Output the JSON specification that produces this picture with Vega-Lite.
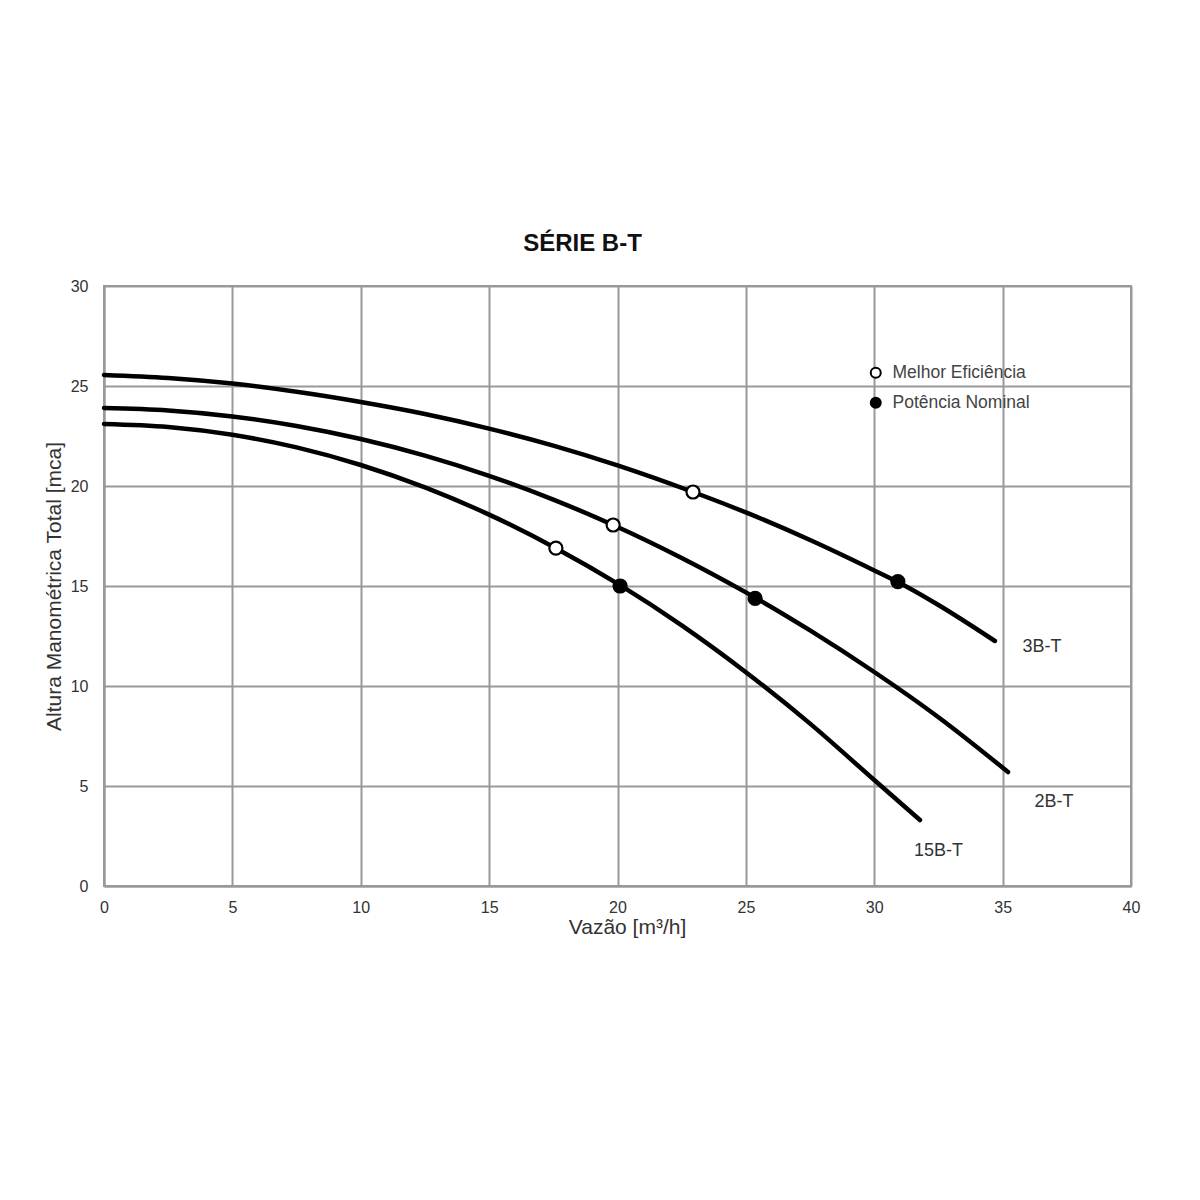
{
  "$schema": "https://vega.github.io/schema/vega-lite/v6.json",
  "autosize": "none",
  "padding": {"left": 104, "top": 286, "right": 69, "bottom": 314},
  "width": 1027,
  "height": 600,
  "background": "white",
  "title": {"text": "SÉRIE B-T", "font": "Liberation Sans", "fontSize": 24, "fontWeight": "bold", "color": "#111", "offset": 22, "dx": -35, "anchor": "middle"},
  "datasets": {
    "curves": [
      {"serie": "3B-T", "q": 0, "h": 25.55}, {"serie": "3B-T", "q": 2.5, "h": 25.4}, {"serie": "3B-T", "q": 5, "h": 25.12}, {"serie": "3B-T", "q": 7.5, "h": 24.71}, {"serie": "3B-T", "q": 10, "h": 24.2}, {"serie": "3B-T", "q": 12.5, "h": 23.6}, {"serie": "3B-T", "q": 15, "h": 22.87}, {"serie": "3B-T", "q": 17.5, "h": 22.02}, {"serie": "3B-T", "q": 20, "h": 21.03}, {"serie": "3B-T", "q": 22.94, "h": 19.7}, {"serie": "3B-T", "q": 25, "h": 18.68}, {"serie": "3B-T", "q": 27.5, "h": 17.3}, {"serie": "3B-T", "q": 30, "h": 15.78}, {"serie": "3B-T", "q": 30.92, "h": 15.2}, {"serie": "3B-T", "q": 32.5, "h": 14.05}, {"serie": "3B-T", "q": 34.7, "h": 12.25},
      {"serie": "2B-T", "q": 0, "h": 23.9}, {"serie": "2B-T", "q": 2.5, "h": 23.78}, {"serie": "2B-T", "q": 5, "h": 23.48}, {"serie": "2B-T", "q": 7.5, "h": 23.0}, {"serie": "2B-T", "q": 10, "h": 22.35}, {"serie": "2B-T", "q": 12.5, "h": 21.52}, {"serie": "2B-T", "q": 15, "h": 20.51}, {"serie": "2B-T", "q": 17.5, "h": 19.32}, {"serie": "2B-T", "q": 19.83, "h": 18.05}, {"serie": "2B-T", "q": 22.5, "h": 16.4}, {"serie": "2B-T", "q": 25, "h": 14.68}, {"serie": "2B-T", "q": 25.36, "h": 14.42}, {"serie": "2B-T", "q": 27.5, "h": 12.78}, {"serie": "2B-T", "q": 30, "h": 10.7}, {"serie": "2B-T", "q": 32.5, "h": 8.44}, {"serie": "2B-T", "q": 35.21, "h": 5.7},
      {"serie": "15B-T", "q": 0, "h": 23.1}, {"serie": "15B-T", "q": 2.5, "h": 22.95}, {"serie": "15B-T", "q": 5, "h": 22.56}, {"serie": "15B-T", "q": 7.5, "h": 21.93}, {"serie": "15B-T", "q": 10, "h": 21.05}, {"serie": "15B-T", "q": 12.5, "h": 19.93}, {"serie": "15B-T", "q": 15, "h": 18.57}, {"serie": "15B-T", "q": 17.6, "h": 16.89}, {"serie": "15B-T", "q": 20.1, "h": 15.04}, {"serie": "15B-T", "q": 22.5, "h": 13.03}, {"serie": "15B-T", "q": 25, "h": 10.69}, {"serie": "15B-T", "q": 27.5, "h": 8.12}, {"serie": "15B-T", "q": 30, "h": 5.3}, {"serie": "15B-T", "q": 31.78, "h": 3.3}
    ],
    "pontos": [
      {"tipo": "Melhor Eficiência", "q": 22.94, "h": 19.7},
      {"tipo": "Melhor Eficiência", "q": 19.83, "h": 18.05},
      {"tipo": "Melhor Eficiência", "q": 17.6, "h": 16.89},
      {"tipo": "Potência Nominal", "q": 30.92, "h": 15.22},
      {"tipo": "Potência Nominal", "q": 25.36, "h": 14.38},
      {"tipo": "Potência Nominal", "q": 20.1, "h": 15.0}
    ],
    "rotulos": [
      {"serie": "3B-T", "q": 36.53, "h": 11.95},
      {"serie": "2B-T", "q": 37.0, "h": 4.2},
      {"serie": "15B-T", "q": 32.5, "h": 1.75}
    ]
  },
  "layer": [
    {
      "data": {"name": "curves"},
      "mark": {"type": "line", "color": "black", "strokeWidth": 4.5, "strokeCap": "round", "interpolate": "monotone"},
      "encoding": {
        "x": {"field": "q", "type": "quantitative", "scale": {"domain": [0, 40], "nice": false}, "axis": {"values": [0, 5, 10, 15, 20, 25, 30, 35, 40], "title": "Vazão [m³/h]", "titleX": 523}},
        "y": {"field": "h", "type": "quantitative", "scale": {"domain": [0, 30], "nice": false}, "axis": {"values": [0, 5, 10, 15, 20, 25, 30], "title": "Altura Manométrica Total  [mca]"}},
        "detail": {"field": "serie"}
      }
    },
    {
      "data": {"name": "pontos"},
      "mark": {"type": "point", "shape": "circle", "filled": true, "stroke": "black", "strokeWidth": 2.2, "size": 170, "opacity": 1},
      "encoding": {
        "x": {"field": "q", "type": "quantitative"},
        "y": {"field": "h", "type": "quantitative"},
        "fill": {"field": "tipo", "type": "nominal", "scale": {"domain": ["Melhor Eficiência", "Potência Nominal"], "range": ["white", "black"]},
          "legend": {"title": null, "orient": "none", "legendX": 763, "legendY": 78, "symbolSize": 100, "symbolStrokeColor": "black", "symbolStrokeWidth": 2, "labelFontSize": 17.5, "labelFont": "Liberation Sans", "labelColor": "#444", "rowPadding": 11, "labelOffset": 8, "padding": 0, "symbolType": "circle"}}
      }
    },
    {
      "data": {"name": "rotulos"},
      "mark": {"type": "text", "font": "Liberation Sans", "fontSize": 18, "color": "#333", "align": "center", "baseline": "middle"},
      "encoding": {
        "x": {"field": "q", "type": "quantitative"},
        "y": {"field": "h", "type": "quantitative"},
        "text": {"field": "serie"}
      }
    }
  ],
  "config": {
    "view": {"stroke": "#999", "strokeWidth": 2},
    "axis": {
      "domainColor": "#999", "domainWidth": 2,
      "gridColor": "#999", "gridWidth": 2, "gridOpacity": 1,
      "ticks": false,
      "labelFont": "Liberation Sans", "labelFontSize": 16, "labelColor": "#333",
      "titleFont": "Liberation Sans", "titleFontSize": 21, "titleFontWeight": "normal", "titleColor": "#333"
    },
    "axisX": {"labelPadding": 13, "titlePadding": 1, "labelFlush": false},
    "axisY": {"labelPadding": 16, "titlePadding": 6, "labelFlush": false}
  }
}
